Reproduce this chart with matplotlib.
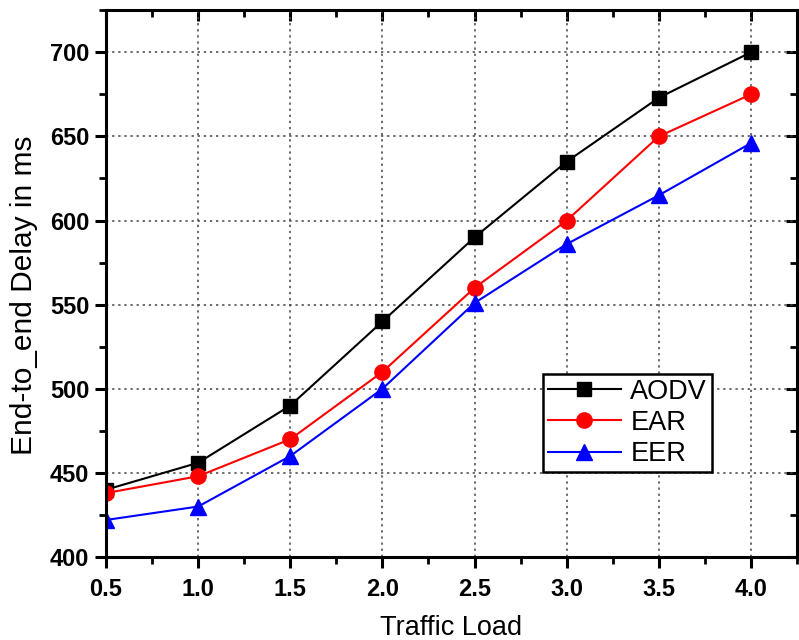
import matplotlib
matplotlib.use('Agg')
import matplotlib.pyplot as plt
from matplotlib.ticker import MultipleLocator

plt.rcParams['font.family'] = ['Liberation Sans', 'DejaVu Sans']

carga = [0.5, 1.0, 1.5, 2.0, 2.5, 3.0, 3.5, 4.0]
aodv = [440, 456, 490, 540, 590, 635, 673, 700]
ear = [438, 448, 470, 510, 560, 600, 650, 675]
eer = [422, 430, 460, 500, 551, 586, 615, 646]

fig = plt.figure(figsize=(7.99, 6.4), dpi=100)
fig.patch.set_facecolor('white')
ax = fig.add_axes([0.1327, 0.1297, 0.8648, 0.8543])

ax.plot(carga, aodv, c='black', marker='s', markersize=10, lw=1.5, label='AODV')
ax.plot(carga, ear, c='red', marker='o', markersize=11, lw=1.5, label='EAR')
ax.plot(carga, eer, c='blue', marker='^', markersize=11, lw=1.5, label='EER')

ax.set_xlim(0.5, 4.25)
ax.set_ylim(400, 725)
ax.xaxis.set_major_locator(MultipleLocator(0.5))
ax.xaxis.set_minor_locator(MultipleLocator(0.25))
ax.yaxis.set_major_locator(MultipleLocator(50))
ax.yaxis.set_minor_locator(MultipleLocator(25))
ax.set_xticks([0.5, 1.0, 1.5, 2.0, 2.5, 3.0, 3.5, 4.0])
ax.set_xticklabels(['0.5', '1.0', '1.5', '2.0', '2.5', '3.0', '3.5', '4.0'])

for s in ax.spines.values():
    s.set_linewidth(2.2)
ax.tick_params(which='major', direction='out', length=8, width=2.2, labelsize=17)
ax.tick_params(which='minor', direction='out', length=5, width=2)
ax.tick_params(axis='x', pad=7)
ax.tick_params(axis='y', pad=4)
for lab in ax.get_xticklabels() + ax.get_yticklabels():
    lab.set_fontweight('bold')

# ejes de arriba y derecha con ticks hacia adentro
sup = ax.secondary_xaxis('top')
sup.xaxis.set_major_locator(MultipleLocator(0.5))
sup.xaxis.set_minor_locator(MultipleLocator(0.25))
sup.tick_params(which='major', direction='in', length=8, width=2.2, labeltop=False)
sup.tick_params(which='minor', direction='in', length=5, width=2)
der = ax.secondary_yaxis('right')
der.yaxis.set_major_locator(MultipleLocator(50))
der.yaxis.set_minor_locator(MultipleLocator(25))
der.tick_params(which='major', direction='in', length=8, width=2.2, labelright=False)
der.tick_params(which='minor', direction='in', length=5, width=2)

ax.grid(True, which='major', linestyle=(0, (1.5, 2.5)), color='#444444', lw=1.1)

ax.set_xlabel('Traffic Load', fontsize=19.5, labelpad=10)
ax.set_ylabel('End-to_end Delay in ms', fontsize=21.5)
ax.yaxis.set_label_coords(-0.098, 0.479)

leg = ax.legend(loc='lower right', bbox_to_anchor=(0.877, 0.155), fontsize=19.5,
                frameon=True, fancybox=False, edgecolor='black', framealpha=1,
                handlelength=2.7, handletextpad=0.35, borderpad=0.18,
                labelspacing=0.2, borderaxespad=0)
leg.get_frame().set_linewidth(1.8)

plt.savefig('out.png', dpi=100)
plt.close(fig)
